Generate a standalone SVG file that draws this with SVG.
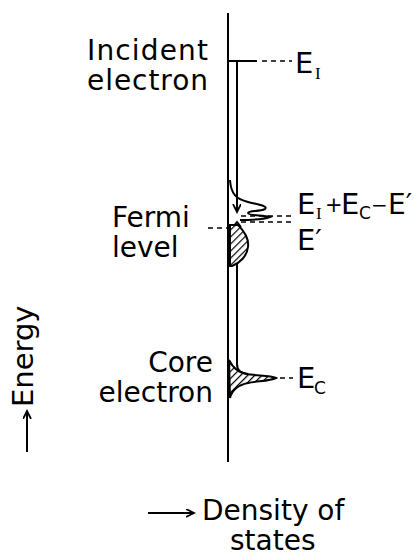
<svg xmlns="http://www.w3.org/2000/svg" width="414" height="558" viewBox="0 0 414 558">
<style>
text{font-family:"DejaVu Sans","Liberation Sans",sans-serif;fill:#000}
.t{font-size:28px}
.sub{font-size:17px}
.ser{font-family:"Liberation Serif","DejaVu Serif",serif}
.ln{stroke:#000;stroke-width:2;fill:none}
.dash{stroke:#000;stroke-width:1.6;stroke-dasharray:5 4;fill:none}
.hatch{fill:url(#hatch);stroke:#000;stroke-width:2}
</style>
<defs>
<pattern id="hatch" width="5" height="5" patternUnits="userSpaceOnUse" patternTransform="rotate(45)">
<rect width="5" height="5" fill="#fff"/>
<line x1="0" y1="0" x2="0" y2="5" stroke="#000" stroke-width="2.4"/>
</pattern>
<marker id="ah" markerWidth="10" markerHeight="10" refX="8" refY="4" orient="auto" markerUnits="userSpaceOnUse">
<path d="M0,0 L8,4 L0,8" fill="none" stroke="#000" stroke-width="1.8"/>
</marker>
</defs>
<rect width="414" height="558" fill="#fff"/>

<g id="connectors">
<line class="ln" x1="228" y1="13" x2="228" y2="462"/>
<line class="ln" x1="228" y1="61" x2="257" y2="61"/>
<line class="dash" x1="262" y1="61" x2="292" y2="61"/>
<line class="ln" x1="237" y1="61" x2="237" y2="212" marker-end="url(#ah)"/>
<path class="ln" d="M233,227 L237,222 L241,227" stroke-width="1.6"/>
<path class="ln" d="M237,262 L237,364 C237,371 241,373 248,374"/>
<line class="dash" x1="241" y1="216" x2="292" y2="216"/>
<line class="dash" x1="241" y1="222" x2="292" y2="222"/>
<line class="dash" x1="208" y1="228" x2="228" y2="228"/>
<line class="dash" x1="280" y1="378" x2="293" y2="378"/>
</g>

<g id="empty-states">
<path class="ln" d="M230,180 C231,194 236,199 248,202 C260,205 268,206 265,209 C259,212 249,210 248,213 C249,216 262,215 270,217 C262,220 250,220 240,220"/>
</g>

<g id="occupied-states">
<path class="hatch" d="M230,225 L238,225 C245,232 249,240 248,247 C247,256 240,263 232,266 L230,266 Z"/>
</g>

<g id="core-peak">
<path class="hatch" d="M229,360 C232,366 236,372 246,374 C258,376 270,375 276,378 C270,381 258,381 248,383 C238,385 232,390 230,398 Z"/>
</g>

<g id="label-incident">
<text class="t" x="208" y="60" text-anchor="end" textLength="121">Incident</text>
<text class="t" x="208" y="90" text-anchor="end" textLength="121">electron</text>
</g>

<g id="label-EI">
<text class="t" x="295" y="73" style="font-size:29px">E</text>
<text class="sub ser" x="315" y="79">I</text>
</g>

<g id="label-sum">
<text class="t" x="297" y="214" style="font-size:29px">E</text>
<text class="sub ser" x="316" y="219">I</text>
<text x="325" y="212" style="font-size:21px">+</text>
<text class="t" x="341" y="214" style="font-size:29px">E</text>
<text class="sub" x="359" y="219">C</text>
<text x="371" y="212" style="font-size:20px">−</text>
<text class="t" x="388" y="214">E′</text>
</g>

<g id="label-Eprime">
<text class="t" x="297" y="250" style="font-size:29px">E′</text>
</g>

<g id="label-fermi">
<text class="t" x="112" y="227">Fermi</text>
<text class="t" x="112" y="257">level</text>
</g>

<g id="label-core">
<text class="t" x="213" y="372" text-anchor="end">Core</text>
<text class="t" x="213" y="402" text-anchor="end">electron</text>
</g>

<g id="label-EC">
<text class="t" x="297" y="388" style="font-size:29px">E</text>
<text class="sub" x="314" y="394">C</text>
</g>

<g id="axis-energy">
<line class="ln" x1="27" y1="452" x2="27" y2="411" marker-end="url(#ah)"/>
<text class="t" transform="translate(33,407) rotate(-90)" style="font-size:29px">Energy</text>
</g>

<g id="axis-density">
<line class="ln" x1="148" y1="513" x2="194" y2="513" marker-end="url(#ah)"/>
<text class="t" x="202" y="520">Density of</text>
<text class="t" x="230" y="550">states</text>
</g>
</svg>
